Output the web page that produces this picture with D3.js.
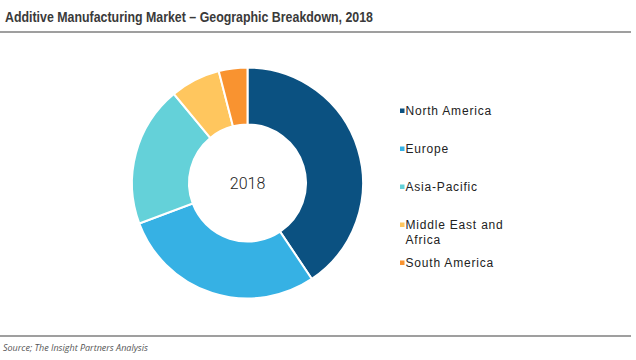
<!DOCTYPE html>
<html>
<head>
<meta charset="utf-8">
<script src="https://cdn.jsdelivr.net/npm/d3@7"></script>
<style>
  html, body { margin: 0; padding: 0; background: #fff; }
  svg { display: block; }
</style>
</head>
<body>
<svg id="chart" width="636" height="360"></svg>
<script>
const categories = ["North America", "Europe", "Asia-Pacific", "Middle East and Africa", "South America"];
const legendLabels = [["North America"], ["Europe"], ["Asia-Pacific"], ["Middle East and", "Africa"], ["South America"]];
const shares = [40.6, 28.7, 19.7, 7.0, 4.0];
const colors = ["#0b5181", "#36b1e4", "#64d1d9", "#ffc65e", "#f99330"];
const centerLabel = "2018";

const svg = d3.select("#chart");

// title
svg.append("text")
  .attr("x", 5).attr("y", 22)
  .attr("font-family", "'Liberation Sans', sans-serif")
  .attr("font-weight", "bold")
  .attr("font-size", 15)
  .attr("fill", "#3a3a3a")
  .attr("textLength", 368)
  .attr("lengthAdjust", "spacingAndGlyphs")
  .text("Additive Manufacturing Market \u2013 Geographic Breakdown, 2018");

svg.append("line").attr("x1", 0).attr("x2", 631).attr("y1", 32).attr("y2", 32)
  .attr("stroke", "#7f7f7f").attr("stroke-width", 1.5);
svg.append("line").attr("x1", 0).attr("x2", 631).attr("y1", 336).attr("y2", 336)
  .attr("stroke", "#7f7f7f").attr("stroke-width", 1.5);

svg.append("text")
  .attr("x", 3).attr("y", 351)
  .attr("font-family", "'Open Sans', sans-serif")
  .attr("font-style", "italic")
  .attr("font-size", 9)
  .attr("fill", "#555")
  .text("Source; The Insight Partners Analysis");

// donut
const cx = 247.5, cy = 183, rOuter = 115.5, rInner = 58.5;
const color = d3.scaleOrdinal().domain(categories).range(colors);
const pie = d3.pie().sort(null).value(d => d.v);
const arc = d3.arc().innerRadius(rInner).outerRadius(rOuter);
const data = categories.map((c, i) => ({ c, v: shares[i] }));

const g = svg.append("g").attr("transform", `translate(${cx},${cy})`);
g.selectAll("path").data(pie(data)).join("path")
  .attr("d", arc)
  .attr("fill", d => color(d.data.c))
  .attr("stroke", "#fff")
  .attr("stroke-width", 2);

g.append("text")
  .attr("text-anchor", "middle")
  .attr("dy", "0.35em")
  .attr("font-family", "Roboto, sans-serif")
  .attr("font-weight", 300)
  .attr("font-size", 16)
  .attr("fill", "#222")
  .text(centerLabel);

// legend
const legendY = [111, 149, 187, 225, 263];
const lg = svg.append("g");
categories.forEach((c, i) => {
  const row = lg.append("g").attr("transform", `translate(400,${legendY[i]})`);
  row.append("rect").attr("x", 0).attr("y", -2.5).attr("width", 4.5).attr("height", 4.5)
    .attr("fill", color(c));
  legendLabels[i].forEach((t, j) => {
    row.append("text")
      .attr("x", 5.5).attr("y", j * 15)
      .attr("dy", "0.35em")
      .attr("font-family", "'Liberation Sans', Arial, sans-serif")
      .attr("font-size", 12)
      .attr("letter-spacing", 0.8)
      .attr("fill", "#222")
      .text(t);
  });
});
</script>
</body>
</html>
